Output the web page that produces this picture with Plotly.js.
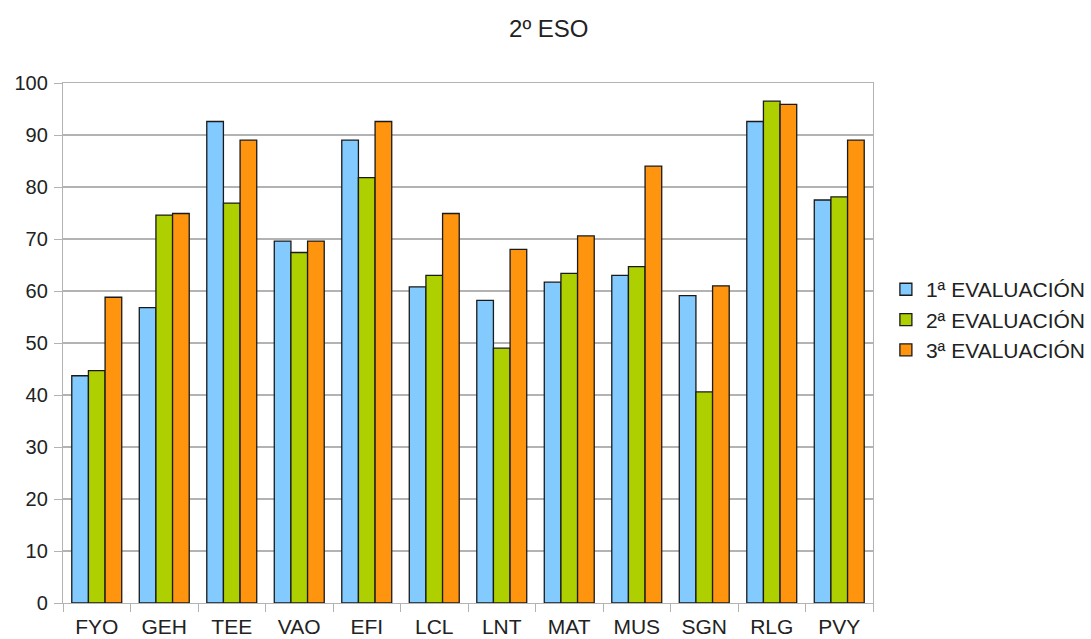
<!DOCTYPE html>
<html>
<head>
<meta charset="utf-8">
<script src="https://cdn.plot.ly/plotly-3.0.1.min.js"></script>
<style>html,body{margin:0;padding:0;background:#fff;}#chart{width:1091px;height:639px;}</style>
</head>
<body>
<div id="chart"></div>
<script>
var categories = ["FYO","GEH","TEE","VAO","EFI","LCL","LNT","MAT","MUS","SGN","RLG","PVY"];
var seriesNames = ["1ª EVALUACIÓN","2ª EVALUACIÓN","3ª EVALUACIÓN"];
var eval1 = [43.7, 56.8, 92.6, 69.6, 89.0, 60.8, 58.2, 61.7, 63.0, 59.1, 92.6, 77.5];
var eval2 = [44.7, 74.6, 76.9, 67.4, 81.8, 63.0, 49.0, 63.4, 64.7, 40.6, 96.5, 78.1];
var eval3 = [58.8, 74.9, 89.0, 69.6, 92.6, 74.9, 68.0, 70.6, 84.0, 61.0, 95.9, 89.0];
var yTicks = [0,10,20,30,40,50,60,70,80,90,100];

var colors = ["#83caff", "#aecf00", "#ff950e"];
var values = [eval1, eval2, eval3];
var data = values.map(function(v, i){
  return {
    type: "bar", x: categories, y: v, name: seriesNames[i],
    marker: {color: colors[i], line: {color: "#1a1a1a", width: 1.3}}
  };
});

var fam = "Liberation Sans, Arial, sans-serif";
var tickFontX = {family: fam, size: 21, color: "#222"};
var tickFontY = {family: fam, size: 20, color: "#222"};
var layout = {
  width: 1091, height: 639,
  margin: {l: 63, r: 218, t: 83, b: 36, autoexpand: false},
  paper_bgcolor: "#fff", plot_bgcolor: "#fff",
  font: {family: fam, size: 20, color: "#222"},
  title: {text: "2º ESO", x: 0.503, xanchor: "center", y: 0.955, yanchor: "middle", font: {family: fam, size: 24, color: "#222"}},
  barmode: "group",
  bargap: 0.26, bargroupgap: 0,
  showlegend: true,
  legend: {xref: "container", x: 0.812, xanchor: "left", y: 0.545, yanchor: "middle", font: {family: fam, size: 21, color: "#222"}, itemwidth: 30},
  xaxis: {
    type: "category", tickson: "boundaries", ticks: "outside", ticklen: 8, tickcolor: "#b3b3b3",
    showline: true, linecolor: "#b3b3b3", linewidth: 1.2, mirror: true,
    showgrid: false, tickfont: tickFontX, ticklabelstandoff: 5, fixedrange: true
  },
  yaxis: {
    range: [0, 100], tickvals: yTicks, ticktext: yTicks.map(String),
    ticks: "outside", ticklen: 8, tickcolor: "#b3b3b3",
    showline: true, linecolor: "#b3b3b3", linewidth: 1.2, mirror: true,
    showgrid: true, gridcolor: "#b3b3b3", gridwidth: 1.2, zeroline: false,
    tickfont: tickFontY, ticklabelstandoff: 2, fixedrange: true
  }
};
Plotly.newPlot("chart", data, layout, {displayModeBar: false, staticPlot: true});
</script>
</body>
</html>
